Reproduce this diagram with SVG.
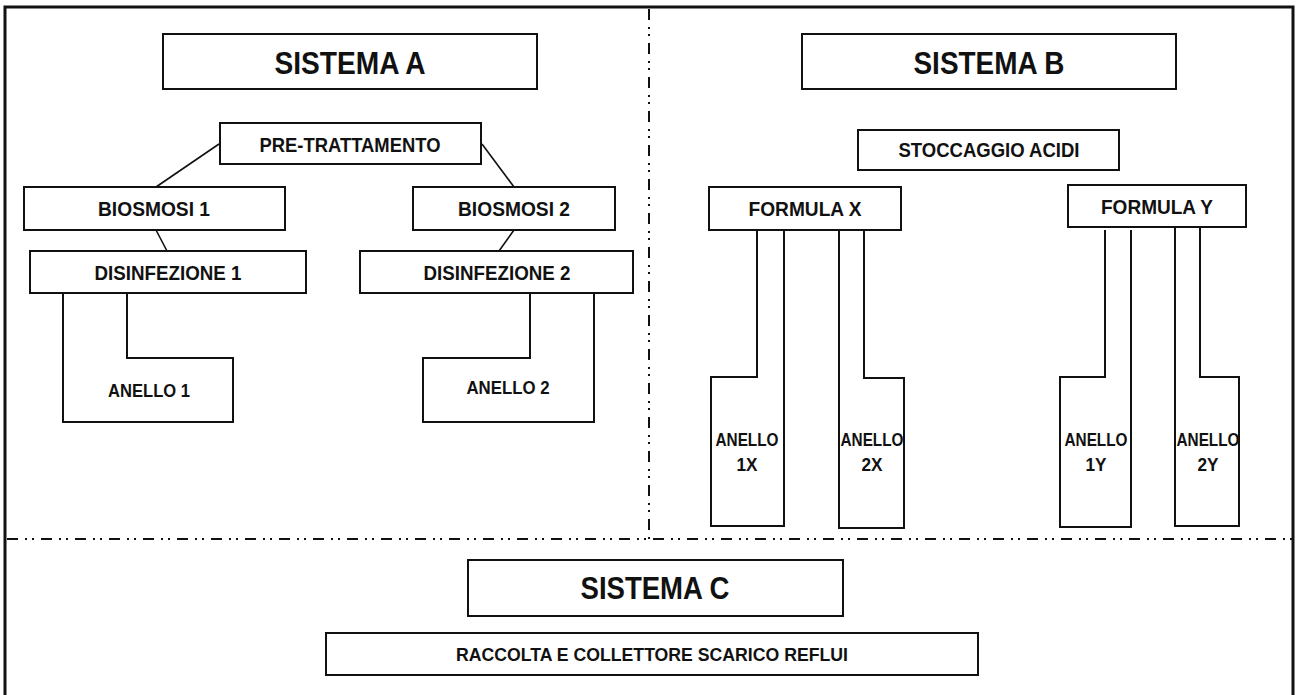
<svg xmlns="http://www.w3.org/2000/svg" width="1297" height="695" viewBox="0 0 1297 695">
<style>
.box{fill:#fff;stroke:#111;stroke-width:2}
.shape{fill:none;stroke:#111;stroke-width:2}
.con{fill:none;stroke:#111;stroke-width:1.6}
.div{fill:none;stroke:#111;stroke-width:2;stroke-dasharray:11 7 2 5 2 7}
text{font-family:"Liberation Sans",Arial,sans-serif;font-weight:bold;fill:#111;text-anchor:middle}
.big{font-size:31px}
.mid{font-size:20.5px}
.sm{font-size:19.5px}
.an{font-size:18px}
</style>
<rect width="1297" height="695" fill="#fff"/>
<rect x="5" y="7" width="1288" height="700" fill="none" stroke="#111" stroke-width="3"/>
<g id="dividers">
<line class="div" x1="649" y1="9" x2="649" y2="539"/>
<line class="div" x1="7" y1="539" x2="1292" y2="539"/>
</g>
<g id="connectors">
<line class="con" x1="219" y1="144" x2="156" y2="187"/>
<line class="con" x1="482" y1="144" x2="514" y2="187"/>
<line class="con" x1="156" y1="230" x2="167" y2="251"/>
<line class="con" x1="514" y1="230" x2="499" y2="251"/>
</g>
<g id="sistema-a"><rect class="box" x="163" y="34" width="374" height="55"/><text class="big" x="350" y="74" textLength="151" lengthAdjust="spacingAndGlyphs">SISTEMA A</text></g>
<g id="pre-trattamento"><rect class="box" x="220" y="123" width="261" height="41"/><text class="mid" x="350" y="152" textLength="181" lengthAdjust="spacingAndGlyphs">PRE-TRATTAMENTO</text></g>
<g id="biosmosi-1"><rect class="box" x="24" y="187" width="261" height="43"/><text class="sm" x="154" y="216" textLength="112" lengthAdjust="spacingAndGlyphs">BIOSMOSI 1</text></g>
<g id="biosmosi-2"><rect class="box" x="413" y="187" width="202" height="43"/><text class="sm" x="514" y="216" textLength="112" lengthAdjust="spacingAndGlyphs">BIOSMOSI 2</text></g>
<g id="disinfezione-1"><rect class="box" x="30" y="251" width="276" height="42"/><text class="sm" x="168" y="280" textLength="147" lengthAdjust="spacingAndGlyphs">DISINFEZIONE 1</text></g>
<g id="disinfezione-2"><rect class="box" x="360" y="251" width="273" height="42"/><text class="sm" x="497" y="280" textLength="147" lengthAdjust="spacingAndGlyphs">DISINFEZIONE 2</text></g>
<g id="anello-1"><path class="shape" d="M63,293 V422 H233 V358 H127 V293"/><text class="an" x="149" y="397" textLength="82" lengthAdjust="spacingAndGlyphs">ANELLO 1</text></g>
<g id="anello-2"><path class="shape" d="M594,293 V422 H423 V358 H530 V293"/><text class="an" x="508" y="394" textLength="83" lengthAdjust="spacingAndGlyphs">ANELLO 2</text></g>
<g id="sistema-b"><rect class="box" x="802" y="34" width="374" height="55"/><text class="big" x="989" y="74" textLength="151" lengthAdjust="spacingAndGlyphs">SISTEMA B</text></g>
<g id="stoccaggio-acidi"><rect class="box" x="858" y="130" width="261" height="40"/><text class="mid" x="989" y="157" textLength="181" lengthAdjust="spacingAndGlyphs">STOCCAGGIO ACIDI</text></g>
<g id="formula-x"><rect class="box" x="709" y="187" width="192" height="43"/><text class="mid" x="805" y="216" textLength="113" lengthAdjust="spacingAndGlyphs">FORMULA X</text></g>
<g id="formula-y"><rect class="box" x="1068" y="185" width="178" height="42"/><text class="mid" x="1157" y="214" textLength="112" lengthAdjust="spacingAndGlyphs">FORMULA Y</text></g>
<g id="anello-1x"><path class="shape" d="M757,230 V377 H711 V526 H784 V230"/><text class="an" x="747" y="446" textLength="63" lengthAdjust="spacingAndGlyphs">ANELLO</text><text class="an" x="747" y="471" textLength="21" lengthAdjust="spacingAndGlyphs">1X</text></g>
<g id="anello-2x"><path class="shape" d="M864,230 V378 H904 V528 H839 V230"/><text class="an" x="872" y="446" textLength="63" lengthAdjust="spacingAndGlyphs">ANELLO</text><text class="an" x="872" y="471" textLength="21" lengthAdjust="spacingAndGlyphs">2X</text></g>
<g id="anello-1y"><path class="shape" d="M1105,230 V377 H1060 V527 H1131 V230"/><text class="an" x="1096" y="446" textLength="63" lengthAdjust="spacingAndGlyphs">ANELLO</text><text class="an" x="1096" y="471" textLength="21" lengthAdjust="spacingAndGlyphs">1Y</text></g>
<g id="anello-2y"><path class="shape" d="M1200,227 V377 H1239 V526 H1175 V227"/><text class="an" x="1208" y="446" textLength="63" lengthAdjust="spacingAndGlyphs">ANELLO</text><text class="an" x="1208" y="471" textLength="21" lengthAdjust="spacingAndGlyphs">2Y</text></g>
<g id="sistema-c"><rect class="box" x="468" y="560" width="375" height="56"/><text class="big" x="655" y="599" textLength="149" lengthAdjust="spacingAndGlyphs">SISTEMA C</text></g>
<g id="raccolta"><rect class="box" x="326" y="633" width="652" height="42"/><text class="an" x="652" y="661" textLength="392" lengthAdjust="spacingAndGlyphs">RACCOLTA E COLLETTORE SCARICO REFLUI</text></g>
</svg>
